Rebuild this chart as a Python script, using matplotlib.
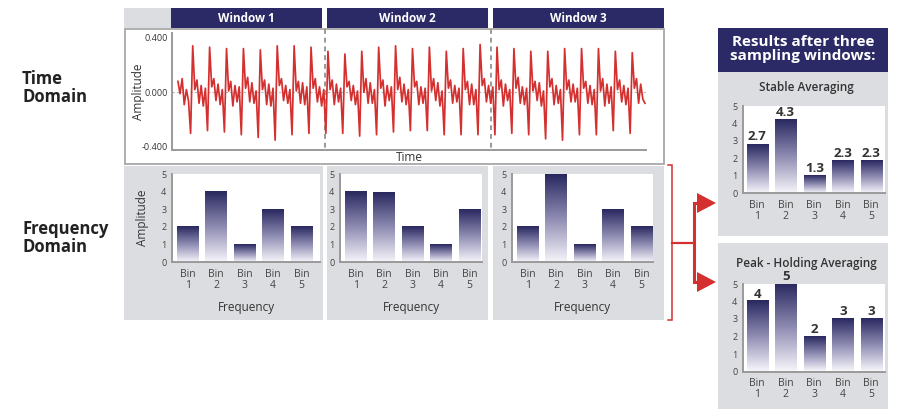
import numpy as np
import matplotlib.pyplot as plt
from matplotlib.patches import Rectangle, Polygon
from matplotlib.colors import LinearSegmentedColormap

plt.rcParams['font.family'] = ['Open Sans', 'DejaVu Sans']

# ---- data ----
windows = ["Window 1", "Window 2", "Window 3"]
bins = ["Bin\n1", "Bin\n2", "Bin\n3", "Bin\n4", "Bin\n5"]

window1 = [2, 4, 1, 3, 2]
window2 = [4, 3.95, 2, 1, 3]
window3 = [2, 5, 1, 3, 2]

stable_heights = [2.8, 4.2, 1.0, 1.85, 1.85]
stable_labels = ["2.7", "4.3", "1.3", "2.3", "2.3"]
peak_heights = [4, 5, 2, 3, 3]
peak_labels = ["4", "5", "2", "3", "3"]

# time-domain signal, one row per cycle (peak ... trough)
signal = [
    0.08, -0.01, 0.10, -0.09, 0.02, -0.06, -0.30,
    0.34, 0.02, 0.09, -0.08, 0.05, -0.10, 0.03, -0.28,
    0.33, 0.04, 0.10, -0.06, 0.06, -0.09, 0.02, -0.29,
    0.32, 0.01, 0.08, -0.10, 0.05, -0.07, 0.04, -0.31,
    0.32, 0.03, 0.11, -0.07, 0.07, -0.08, 0.01, -0.33,
    0.31, 0.02, 0.09, -0.09, 0.06, -0.10, 0.03, -0.35,
    0.34, 0.05, 0.10, -0.06, 0.05, -0.08, 0.02, -0.31,
    0.34, 0.01, 0.08, -0.08, 0.07, -0.09, 0.04, -0.30,
    0.33, 0.03, 0.10, -0.07, 0.04, -0.10, 0.02, -0.30,
    0.30, 0.02, 0.09, -0.09, 0.06, -0.07, 0.03, -0.30,
    0.28, 0.04, 0.08, -0.06, 0.05, -0.09, 0.01, -0.32,
    0.30, 0.00, 0.10, -0.08, 0.07, -0.08, 0.02, -0.31,
    0.33, 0.03, 0.09, -0.10, 0.05, -0.06, 0.04, -0.29,
    0.34, 0.02, 0.11, -0.07, 0.06, -0.09, 0.02, -0.28,
    0.32, 0.04, 0.08, -0.09, 0.04, -0.08, 0.03, -0.28,
    0.33, 0.01, 0.10, -0.06, 0.07, -0.10, 0.01, -0.31,
    0.30, 0.03, 0.09, -0.08, 0.05, -0.07, 0.03, -0.31,
    0.32, 0.02, 0.08, -0.09, 0.06, -0.09, 0.02, -0.31,
    0.35, 0.05, 0.10, -0.07, 0.05, -0.08, 0.04, -0.31,
    0.33, 0.02, 0.09, -0.10, 0.06, -0.06, 0.02, -0.30,
    0.32, 0.03, 0.11, -0.08, 0.04, -0.09, 0.03, -0.31,
    0.30, 0.01, 0.08, -0.06, 0.07, -0.10, 0.01, -0.34,
    0.30, 0.04, 0.10, -0.09, 0.05, -0.08, 0.02, -0.35,
    0.32, 0.02, 0.09, -0.07, 0.06, -0.07, 0.03, -0.31,
    0.32, 0.03, 0.08, -0.08, 0.05, -0.09, 0.02, -0.31,
    0.32, 0.01, 0.10, -0.10, 0.06, -0.08, 0.04, -0.28,
    0.30, 0.02, 0.09, -0.07, 0.05, -0.09, 0.03, -0.30,
    0.29, 0.03, 0.10, -0.08, 0.06, -0.05, -0.08,
]

# ---- colours ----
NAVY = '#2b2a66'
RED = '#d3302f'
GRAY = '#dcdde0'
TXT = '#333333'
bar_cmap = LinearSegmentedColormap.from_list(
    'navygrad', [(0, '#f6f5fa'), (0.5, '#8e8bb2'), (1, '#29285f')])

W, H = 901, 411
fig = plt.figure(figsize=(W / 100, H / 100), dpi=100)


def px_axes(x0, y0, x1, y1):
    return fig.add_axes([x0 / W, 1 - y1 / H, (x1 - x0) / W, (y1 - y0) / H])


# background layer in pixel coordinates
bg = fig.add_axes([0, 0, 1, 1])
bg.set_xlim(0, W)
bg.set_ylim(H, 0)
bg.axis('off')

bg.add_patch(Rectangle((124, 8), 47, 20, color=GRAY, lw=0))
for (x0, x1), name in zip([(171, 322), (327, 488), (493, 664)], windows):
    bg.add_patch(Rectangle((x0, 8), x1 - x0, 20, color=NAVY, lw=0))
    bg.text((x0 + x1) / 2, 18.5, name, color='white', fontsize=8.5,
            fontweight='bold', ha='center', va='center')
bg.add_patch(Rectangle((125, 29), 539, 135, facecolor='white',
                       edgecolor='#a8a8a8', lw=1.3))
for x0, x1 in [(124, 323), (327, 488), (493, 664)]:
    bg.add_patch(Rectangle((x0, 166), x1 - x0, 154, color=GRAY, lw=0))
for xv in [325, 491]:
    bg.plot([xv, xv], [29, 150], color='#9a9a9a', lw=1.4, ls=(0, (2.5, 2)))

bg.text(22, 88, "Time\nDomain", fontsize=12, fontweight='bold', color='#222222',
        ha='left', va='center', linespacing=1.0)
bg.text(22, 238, "Frequency\nDomain", fontsize=12, fontweight='bold',
        color='#222222', ha='left', va='center', linespacing=1.0)

# right side panels
bg.add_patch(Rectangle((718, 28), 170, 44, color=NAVY, lw=0))
bg.text(803, 49, "Results after three\nsampling windows:", color='white',
        fontsize=11, fontweight='bold', ha='center', va='center',
        linespacing=1.0)
bg.add_patch(Rectangle((718, 72), 170, 164, color=GRAY, lw=0))
bg.add_patch(Rectangle((718, 243), 170, 166, color=GRAY, lw=0))
bg.text(806, 87, "Stable Averaging", fontsize=8.5, fontweight='semibold',
        color=TXT, ha='center', va='center')
bg.text(806, 263, "Peak - Holding Averaging", fontsize=8.5,
        fontweight='semibold', color=TXT, ha='center', va='center')

# red bracket and arrows
bg.plot([668, 672, 672, 668], [165, 165, 320, 320], color=RED, lw=1.1,
        solid_joinstyle='miter')
bg.plot([672, 694], [243, 243], color=RED, lw=1.6)
bg.plot([700, 694, 694, 700], [203, 203, 282, 282], color=RED, lw=2.2,
        solid_joinstyle='miter')
for yc in [203, 282]:
    bg.add_patch(Polygon([(697, yc - 10), (716, yc), (697, yc + 10)],
                         closed=True, color=RED, lw=0))

# ---- time domain ----
ax_t = px_axes(172, 33, 646, 150)
ax_t.set_facecolor('none')
t = np.arange(len(signal))
ax_t.axhline(0, color='#b5b5b5', lw=0.8, ls=(0, (2, 2)), zorder=1)
ax_t.plot(t, signal, color=RED, lw=1.25, zorder=3)
ax_t.set_xlim(-2.8, 221.5)
ax_t.set_ylim(-0.422, 0.434)
ax_t.set_yticks([-0.4, 0.0, 0.4])
ax_t.set_yticklabels(["-0.400", "0.000", "0.400"])
ax_t.set_xticks([])
ax_t.tick_params(axis='y', length=0, labelsize=6.5, labelcolor=TXT, pad=3)
for s in ['top', 'right']:
    ax_t.spines[s].set_visible(False)
for s in ['left', 'bottom']:
    ax_t.spines[s].set_color('#9a9a9a')
    ax_t.spines[s].set_linewidth(1.4)
ax_t.set_ylabel("Amplitude", fontsize=8.5, color=TXT)
ax_t.yaxis.set_label_coords(-0.056, 0.5)
ax_t.set_xlabel("Time", fontsize=8.5, color=TXT, labelpad=0.5)


def gradient_bars(ax, heights, labels=None):
    bars = ax.bar(range(len(heights)), heights, width=0.75,
                  color='none', lw=0)
    grad = np.linspace(0, 1, 256).reshape(-1, 1)
    for b in bars:
        ax.imshow(grad, extent=[b.get_x(), b.get_x() + b.get_width(),
                                0, b.get_height()],
                  origin='lower', cmap=bar_cmap, aspect='auto', zorder=2)
    if labels is not None:
        for b, lab in zip(bars, labels):
            ax.text(b.get_x() + b.get_width() / 2, b.get_height() + 0.22, lab,
                    ha='center', va='baseline', fontsize=9.5,
                    fontweight='bold', color=TXT)
    ax.set_ylim(0, 5)
    ax.set_yticks(range(6))
    ax.set_xticks(range(len(heights)))
    ax.set_xticklabels(bins, linespacing=0.95)
    ax.tick_params(axis='both', length=0, labelsize=6.5, labelcolor='#444444')
    ax.tick_params(axis='x', labelsize=7.5, pad=5)
    ax.tick_params(axis='y', pad=4)
    for s in ['top', 'right']:
        ax.spines[s].set_visible(False)
    for s in ['left', 'bottom']:
        ax.spines[s].set_color('#9a9a9a')
        ax.spines[s].set_linewidth(1.4)
    return bars


# ---- frequency domain panels ----
for (x0, x1), vals in zip([(172, 320), (340, 482), (512, 653)],
                          [window1, window2, window3]):
    ax = px_axes(x0, 174, x1, 262)
    gradient_bars(ax, vals)
    ax.set_xlim(-0.55, -0.55 + (x1 - x0) / 28.5)
    ax.set_xlabel("Frequency", fontsize=8.5, color=TXT)
    ax.xaxis.set_label_coords(0.5, -(301 - 262) / 88)
    if x0 == 172:
        ax.set_ylabel("Amplitude", fontsize=8.5, color=TXT)
        ax.yaxis.set_label_coords(-(172 - 149) / 148, 0.5)

# ---- result panels ----
ax_s = px_axes(743, 106, 885, 193)
gradient_bars(ax_s, stable_heights, stable_labels)
ax_s.set_xlim(-0.5, -0.5 + 142 / 28.5)

ax_p = px_axes(743, 284, 885, 371.5)
gradient_bars(ax_p, peak_heights, peak_labels)
ax_p.set_xlim(-0.5, -0.5 + 142 / 28.5)

fig.savefig('out.png', dpi=100)
